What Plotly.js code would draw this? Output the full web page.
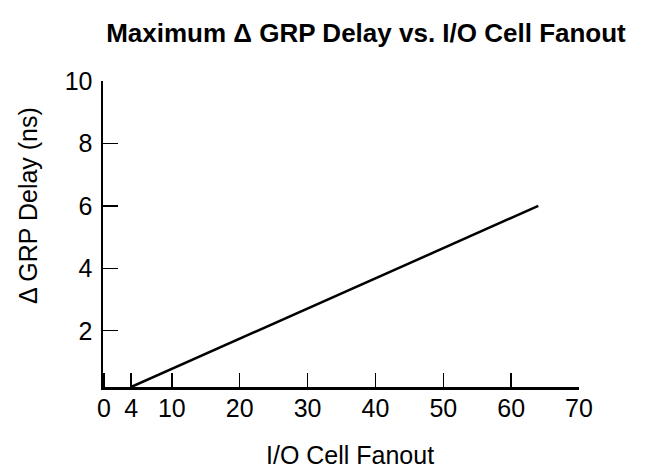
<!DOCTYPE html>
<html>
<head>
<meta charset="utf-8">
<script src="https://cdn.plot.ly/plotly-3.0.1.min.js"></script>
<style>html,body{margin:0;padding:0;background:#fff;}#chart{width:649px;height:468px;}</style>
</head>
<body>
<div id="chart"></div>
<script>
const fanout = [4, 64];
const maxDelay = [0.2, 6.0];
const xTickVals = [0, 4, 10, 20, 30, 40, 50, 60, 70];
const yTickVals = [2, 4, 6, 8, 10];
const titleText = 'Maximum \u0394 GRP Delay vs. I/O Cell Fanout';
const xTitleText = 'I/O Cell Fanout';
const yTitleText = '\u0394 GRP Delay (ns)';

const FONT = "Liberation Sans, Arial, Helvetica, sans-serif";
const W = 649, H = 468;
const M = {l: 103, r: 70, t: 81, b: 81};
const PW = W - M.l - M.r, PH = H - M.t - M.b;

const trace = {
  x: fanout,
  y: maxDelay,
  type: 'scatter',
  mode: 'lines',
  line: {color: '#000', width: 2.5},
  hoverinfo: 'none'
};

const tickFont = {family: FONT, size: 25, color: '#000'};

const layout = {
  width: W,
  height: H,
  margin: {l: M.l, r: M.r, t: M.t, b: M.b, pad: 0},
  paper_bgcolor: '#fff',
  plot_bgcolor: '#fff',
  showlegend: false,
  font: {family: FONT, color: '#000', size: 25},
  title: {
    text: titleText,
    font: {family: FONT, size: 26, color: '#000', weight: 'bold'},
    xref: 'container', x: 366 / W, xanchor: 'center',
    yref: 'container', y: 1 - 33 / H, yanchor: 'middle'
  },
  xaxis: {
    range: [-0.15, 70],
    tickmode: 'array',
    tickvals: xTickVals,
    ticktext: xTickVals.map(String),
    ticks: 'inside',
    ticklen: 14,
    tickwidth: 1.4,
    tickcolor: '#000',
    showline: true,
    linecolor: '#000',
    linewidth: 2.5,
    showgrid: false,
    zeroline: false,
    tickfont: tickFont,
    ticklabelstandoff: -3,
    automargin: false,
    fixedrange: true
  },
  yaxis: {
    range: [0.2, 10],
    tickmode: 'array',
    tickvals: yTickVals,
    ticktext: yTickVals.map(String),
    ticks: 'inside',
    ticklen: 15,
    tickwidth: 1.4,
    tickcolor: '#000',
    showline: true,
    linecolor: '#000',
    linewidth: 2.5,
    showgrid: false,
    zeroline: false,
    tickfont: tickFont,
    ticklabelstandoff: 3,
    automargin: false,
    fixedrange: true
  },
  annotations: [
    {
      text: xTitleText, showarrow: false,
      xref: 'paper', yref: 'paper',
      x: (350 - M.l) / PW, xanchor: 'center',
      y: -(455 - (H - M.b)) / PH, yanchor: 'middle',
      font: {family: FONT, size: 25, color: '#000'}
    },
    {
      text: yTitleText, showarrow: false, textangle: -90,
      xref: 'paper', yref: 'paper',
      x: (28 - M.l) / PW, xanchor: 'center',
      y: ((H - M.b) - 206) / PH, yanchor: 'middle',
      font: {family: FONT, size: 25, color: '#000'}
    }
  ]
};

Plotly.newPlot('chart', [trace], layout, {displayModeBar: false, staticPlot: true});
</script>
</body>
</html>
